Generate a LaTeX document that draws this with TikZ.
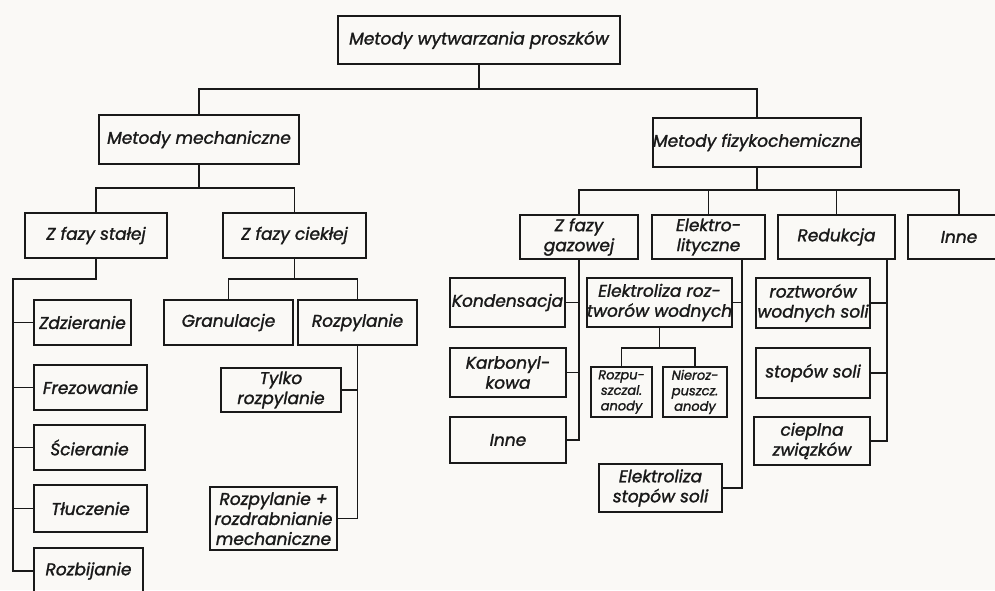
\documentclass[tikz,border=0pt]{standalone}
\usepackage{fontspec}
\setmainfont{Poppins}[ItalicFont=* Italic, ItalicFeatures={FakeBold=1.5}]
\definecolor{ink}{RGB}{25,25,25}
\definecolor{paper}{RGB}{250,249,246}
\newcommand\bx[6]{\node[box, minimum width={(#4-#2)*1pt}, minimum height={(#5-#3)*1pt}] (#1) at ({(#2+#4)/2},{(#3+#5)/2}) {#6};}
\tikzset{
  box/.style={draw=ink, line width=2.2pt, inner sep=0pt, align=center, text=ink,
    font=\itshape\fontsize{17}{20}\selectfont},
  small/.style={font=\itshape\fontsize{13}{15.5}\selectfont},
  conn/.style={draw=ink, line width=1.8pt},
}
\begin{document}
\begin{tikzpicture}[x=1pt,y=-1pt]
\useasboundingbox (0,0) rectangle (995,590);
\fill[paper] (0,0) rectangle (995,590);
\clip (0,0) rectangle (995,590);
% boxes
\bx{top}{338}{16}{620}{64}{Metody wytwarzania proszków}
\bx{mm}{99}{115}{299}{164}{Metody mechaniczne}
\bx{fc}{655}{118}{859}{167}{Metody fizykochemiczne}
\bx{zfs}{25}{213}{167}{258}{Z fazy stałej}
\bx{zfc}{223}{213}{366}{258}{Z fazy ciekłej}
\bx{zdz}{34}{300}{131}{345}{Zdzieranie}
\bx{frez}{34}{365}{147}{410}{Frezowanie}
\bx{scier}{34}{425}{145}{470}{Ścieranie}
\bx{tlucz}{34}{485}{147}{532}{Tłuczenie}
\bx{rozb}{34}{548}{143}{594}{Rozbijanie}
\bx{gran}{164}{300}{293}{345}{Granulacje}
\bx{rozp}{298}{300}{417}{345}{Rozpylanie}
\bx{tylko}{221}{368}{341}{412}{Tylko\\rozpylanie}
\bx{rpm}{210}{487}{337}{550}{Rozpylanie +\\rozdrabnianie\\mechaniczne}
\bx{zfg}{520}{215}{638}{259}{Z fazy\\gazowej}
\bx{el}{652}{215}{765}{259}{Elektro-\\lityczne}
\bx{red}{778}{215}{895}{259}{Redukcja}
\bx{inne}{908}{215}{1010}{259}{Inne}
\bx{kond}{450}{278}{565}{327}{Kondensacja}
\bx{karb}{450}{348}{566}{397}{Karbonyl-\\kowa}
\bx{inneg}{450}{417}{566}{463}{Inne}
\bx{elroz}{593}{278}{726}{327}{Elektroliza roz-\\tworów wodnych}
\node[box, small, minimum width=61pt, minimum height=50pt] (rozpu) at (621.5,392) {Rozpu-\\szczal.\\anody};
\node[box, small, minimum width=64pt, minimum height=50pt] (nieroz) at (695,392) {Nieroz-\\puszcz.\\anody};
\bx{elstop}{599}{464}{722}{512}{Elektroliza\\stopów soli}
\bx{rws}{756}{278}{870}{328}{roztworów\\wodnych soli}
\bx{stop}{756}{348}{870}{398}{stopów soli}
\bx{ciep}{754}{417}{870}{465}{cieplna\\związków}
% bus coordinates
\coordinate (b0) at (479,89);
\coordinate (b1) at (199,188);
\coordinate (b2) at (96,279);
\coordinate (b3) at (13,279);
\coordinate (b4) at (294.5,279);
\coordinate (b5) at (757,190);
\coordinate (b6) at (659.5,348);
% connectors
\draw[conn] (top.south) -- (b0);
\draw[conn] (mm.north) |- (b0) -| (fc.north);
\draw[conn] (mm.south) -- (b1);
\draw[conn] (zfs.north) |- (b1) -| (zfc.north);
\draw[conn] (zfs.south) -- (b2) -- (b3) |- (rozb.west);
\foreach \n in {zdz,frez,scier,tlucz} \draw[conn] (b3 |- \n.west) -- (\n.west);
\draw[conn] (zfc.south) -- (b4);
\draw[conn] (gran.north) |- (b4) -| (rozp.north);
\draw[conn] (rozp.south) |- (rpm.east);
\draw[conn] (tylko.east) -- (rozp.south |- tylko.east);
\draw[conn] (fc.south) -- (b5);
\draw[conn] (zfg.north) |- (b5) -| (inne.north);
\draw[conn] (el.north) -- (el.north |- b5);
\draw[conn] (red.north) -- (red.north |- b5);
\draw[conn] (zfg.south) |- (inneg.east);
\draw[conn] (kond.east) -- (zfg.south |- kond.east);
\draw[conn] (karb.east) -- (zfg.south |- karb.east);
\draw[conn] ([xshift=-24pt]el.south east) |- (elstop.east);
\draw[conn] (elroz.east) -- ([xshift=-24pt]el.south east |- elroz.east);
\draw[conn] (elroz.south) -- (b6);
\draw[conn] (rozpu.north) |- (b6) -| (nieroz.north);
\draw[conn] ([xshift=-9pt]red.south east) |- (ciep.east);
\draw[conn] (rws.east) -- ([xshift=-9pt]red.south east |- rws.east);
\draw[conn] (stop.east) -- ([xshift=-9pt]red.south east |- stop.east);
\end{tikzpicture}
\end{document}
